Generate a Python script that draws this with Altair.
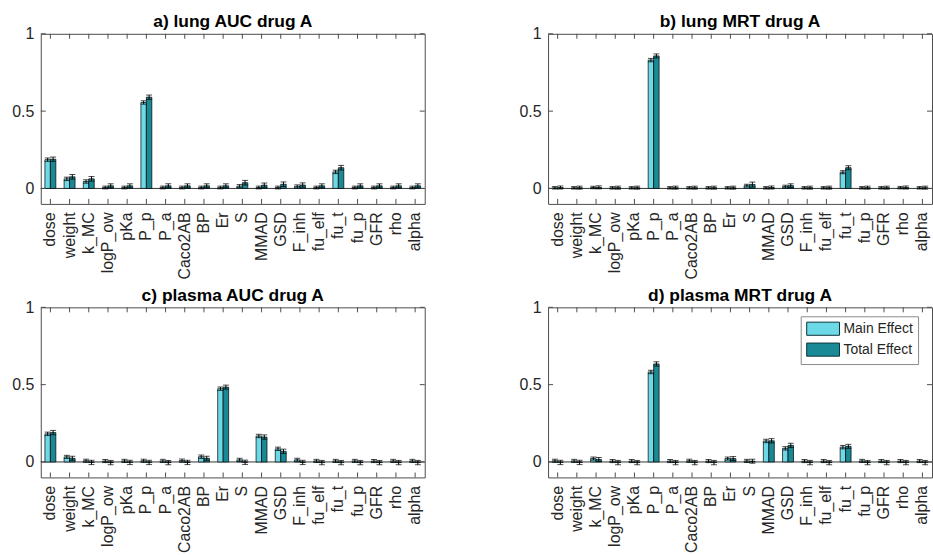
import altair as alt
import pandas as pd

# Sobol sensitivity indices (first order = main, total order = total) per input parameter
PARAMS = ["dose", "weight", "k_MC", "logP_ow", "pKa", "P_p", "P_a", "Caco2AB", "BP", "Er",
          "S", "MMAD", "GSD", "F_inh", "fu_elf", "fu_t", "fu_p", "GFR", "rho", "alpha"]
EFFECTS = ["Main Effect", "Total Effect"]
COLORS = ["#6dd8e6", "#1a8996"]

TITLES = ["a) lung AUC drug A", "b) lung MRT drug A", "c) plasma AUC drug A", "d) plasma MRT drug A"]

LUNG_AUC_MAIN = [0.186, 0.062, 0.045, 0.006, 0.006, 0.556, 0.006, 0.006, 0.006, 0.006,
                 0.015, 0.006, 0.006, 0.013, 0.006, 0.107, 0.006, 0.006, 0.006, 0.006]
LUNG_AUC_TOTAL = [0.189, 0.075, 0.062, 0.017, 0.017, 0.590, 0.017, 0.017, 0.017, 0.017,
                  0.037, 0.021, 0.027, 0.022, 0.017, 0.134, 0.017, 0.017, 0.017, 0.017]
LUNG_AUC_MAIN_ERR = [0.011, 0.011, 0.011, 0.009, 0.009, 0.011, 0.009, 0.009, 0.009, 0.009,
                     0.010, 0.009, 0.009, 0.010, 0.009, 0.011, 0.009, 0.009, 0.009, 0.009]
LUNG_AUC_TOTAL_ERR = [0.014, 0.015, 0.015, 0.013, 0.013, 0.014, 0.013, 0.013, 0.013, 0.013,
                      0.015, 0.014, 0.015, 0.014, 0.013, 0.015, 0.013, 0.013, 0.013, 0.013]

LUNG_MRT_MAIN = [0.004, 0.004, 0.006, 0.004, 0.004, 0.830, 0.004, 0.004, 0.004, 0.004,
                 0.018, 0.004, 0.012, 0.004, 0.004, 0.105, 0.004, 0.004, 0.005, 0.004]
LUNG_MRT_TOTAL = [0.006, 0.005, 0.007, 0.005, 0.005, 0.857, 0.005, 0.005, 0.005, 0.005,
                  0.025, 0.006, 0.018, 0.005, 0.005, 0.134, 0.005, 0.005, 0.006, 0.005]
LUNG_MRT_MAIN_ERR = [0.008, 0.008, 0.008, 0.008, 0.008, 0.011, 0.008, 0.008, 0.008, 0.008,
                     0.009, 0.008, 0.009, 0.008, 0.008, 0.010, 0.008, 0.008, 0.008, 0.008]
LUNG_MRT_TOTAL_ERR = [0.010, 0.010, 0.010, 0.010, 0.010, 0.013, 0.010, 0.010, 0.010, 0.010,
                      0.016, 0.010, 0.012, 0.010, 0.010, 0.013, 0.010, 0.010, 0.010, 0.010]

PLASMA_AUC_MAIN = [0.182, 0.033, 0.008, 0.006, 0.007, 0.008, 0.007, 0.009, 0.034, 0.474,
                   0.014, 0.168, 0.085, 0.014, 0.007, 0.007, 0.007, 0.006, 0.007, 0.007]
PLASMA_AUC_TOTAL = [0.190, 0.024, -0.003, -0.004, -0.003, -0.003, -0.004, -0.003, 0.024, 0.484,
                    -0.002, 0.161, 0.069, -0.003, -0.004, -0.004, -0.004, -0.004, -0.004, -0.004]
PLASMA_AUC_MAIN_ERR = [0.011, 0.010, 0.010, 0.010, 0.010, 0.010, 0.010, 0.010, 0.011, 0.011,
                       0.010, 0.011, 0.011, 0.010, 0.010, 0.010, 0.010, 0.010, 0.010, 0.010]
PLASMA_AUC_TOTAL_ERR = [0.014, 0.013, 0.014, 0.014, 0.014, 0.014, 0.014, 0.014, 0.013, 0.013,
                        0.014, 0.014, 0.014, 0.014, 0.014, 0.014, 0.014, 0.014, 0.014, 0.014]

PLASMA_MRT_MAIN = [0.008, 0.007, 0.022, 0.006, 0.006, 0.582, 0.006, 0.008, 0.006, 0.022,
                   0.007, 0.136, 0.088, 0.006, 0.006, 0.096, 0.007, 0.006, 0.006, 0.006]
PLASMA_MRT_TOTAL = [-0.003, -0.003, 0.016, -0.004, -0.004, 0.634, -0.004, -0.004, -0.004, 0.022,
                    0.005, 0.137, 0.107, -0.004, -0.004, 0.101, -0.004, -0.004, -0.004, -0.004]
PLASMA_MRT_MAIN_ERR = [0.010, 0.010, 0.010, 0.010, 0.010, 0.011, 0.010, 0.010, 0.010, 0.010,
                       0.010, 0.011, 0.011, 0.010, 0.010, 0.011, 0.010, 0.010, 0.010, 0.010]
PLASMA_MRT_TOTAL_ERR = [0.014, 0.014, 0.013, 0.014, 0.014, 0.014, 0.014, 0.014, 0.014, 0.013,
                        0.013, 0.014, 0.014, 0.014, 0.014, 0.013, 0.014, 0.014, 0.014, 0.014]

SERIES = [
    (LUNG_AUC_MAIN, LUNG_AUC_TOTAL, LUNG_AUC_MAIN_ERR, LUNG_AUC_TOTAL_ERR),
    (LUNG_MRT_MAIN, LUNG_MRT_TOTAL, LUNG_MRT_MAIN_ERR, LUNG_MRT_TOTAL_ERR),
    (PLASMA_AUC_MAIN, PLASMA_AUC_TOTAL, PLASMA_AUC_MAIN_ERR, PLASMA_AUC_TOTAL_ERR),
    (PLASMA_MRT_MAIN, PLASMA_MRT_TOTAL, PLASMA_MRT_MAIN_ERR, PLASMA_MRT_TOTAL_ERR),
]

Y_TICKS = [0, 0.5, 1]
W, H = 386, 171
FONT = "Liberation Sans"
LABEL_COLOR = "#262626"
BOX_COLOR = "#4d4d4d"


def long_table(main, total, main_err, total_err):
    rows = []
    for effect, vals, errs in ((EFFECTS[0], main, main_err), (EFFECTS[1], total, total_err)):
        for p, v, e in zip(PARAMS, vals, errs):
            rows.append({"param": p, "effect": effect, "value": v, "lo": v - e, "hi": v + e})
    return pd.DataFrame(rows)


x_scale = alt.Scale(domain=PARAMS, paddingInner=0.43, paddingOuter=0.215)
y_scale = alt.Scale(domain=[-0.1, 1], nice=False, zero=True)
x_axis = alt.Axis(title=None, labelAngle=-90, ticks=False, domain=False, labelPadding=8,
                  labelFontSize=16, labelColor=LABEL_COLOR, labelOverlap=False, grid=False)
y_axis = alt.Axis(title=None, values=Y_TICKS, format="~g", ticks=False, domain=False, grid=False,
                  labelPadding=7, labelFontSize=16, labelColor=LABEL_COLOR)


def X():
    return alt.X("param:N", sort=PARAMS, scale=x_scale, axis=x_axis)


def XO():
    return alt.XOffset("effect:N", sort=EFFECTS,
                       scale=alt.Scale(domain=EFFECTS, paddingInner=0, paddingOuter=0))


def panel(title, series, show_legend):
    df = long_table(*series)
    base = alt.Chart(df)

    legend = None
    if show_legend:
        # wide flat swatches: the row height follows the symbol size, the path extends sideways
        legend = alt.Legend(title=None, orient="none", legendX=254, legendY=9,
                            symbolType="M-2.5,-1H2.5V1H-2.5Z", symbolSize=174, symbolOffset=10,
                            symbolStrokeColor="#0b3338", symbolStrokeWidth=1, symbolOpacity=1,
                            labelFontSize=14, labelColor=LABEL_COLOR, labelOffset=13,
                            strokeColor="#8a8a8a", fillColor="white", padding=5, rowPadding=2)

    bars = base.mark_bar(stroke="black", strokeWidth=0.7).encode(
        x=X(), xOffset=XO(),
        y=alt.Y("value:Q", scale=y_scale, axis=y_axis),
        color=alt.Color("effect:N", sort=EFFECTS,
                        scale=alt.Scale(domain=EFFECTS, range=COLORS), legend=legend),
    )
    err = base.mark_rule(color="black", strokeWidth=1).encode(
        x=X(), xOffset=XO(),
        y=alt.Y("lo:Q", scale=y_scale, axis=y_axis), y2="hi:Q",
    )
    cap_lo = base.mark_tick(color="black", thickness=1, size=6, orient="horizontal").encode(
        x=X(), xOffset=XO(), y=alt.Y("lo:Q", scale=y_scale, axis=y_axis))
    cap_hi = base.mark_tick(color="black", thickness=1, size=6, orient="horizontal").encode(
        x=X(), xOffset=XO(), y=alt.Y("hi:Q", scale=y_scale, axis=y_axis))

    # inward tick marks on all four sides of the box
    pdf = alt.Chart(pd.DataFrame({"param": PARAMS}))
    xt_bottom = pdf.mark_rule(color=BOX_COLOR, strokeWidth=1).encode(
        x=X(), y=alt.value(H - 5), y2=alt.value(H))
    xt_top = pdf.mark_rule(color=BOX_COLOR, strokeWidth=1).encode(
        x=X(), y=alt.value(0), y2=alt.value(5))
    ydf = alt.Chart(pd.DataFrame({"v": Y_TICKS}))
    yt_left = ydf.mark_rule(color=BOX_COLOR, strokeWidth=1).encode(
        y=alt.Y("v:Q", scale=y_scale, axis=y_axis), x=alt.value(0), x2=alt.value(5))
    yt_right = ydf.mark_rule(color=BOX_COLOR, strokeWidth=1).encode(
        y=alt.Y("v:Q", scale=y_scale, axis=y_axis), x=alt.value(W - 5), x2=alt.value(W))

    # bar baseline at zero
    baseline = alt.Chart(pd.DataFrame({"v": [0]})).mark_rule(color="#333333", strokeWidth=1).encode(
        y=alt.Y("v:Q", scale=y_scale, axis=y_axis), x=alt.value(0), x2=alt.value(W))

    return alt.layer(baseline, bars, err, cap_lo, cap_hi, xt_bottom, xt_top, yt_left, yt_right).properties(
        width=W, height=H,
        title=alt.TitleParams(title, fontSize=17.5, fontWeight="bold", color="black",
                              font=FONT, offset=-5, anchor="middle"),
    )


panels = [panel(t, s, i == 3) for i, (t, s) in enumerate(zip(TITLES, SERIES))]

chart = alt.concat(*panels, columns=2, spacing={"row": 6, "column": 93}).resolve_scale(
    color="independent"
).configure(
    font=FONT, padding={"left": 11, "top": 11.5, "right": 0, "bottom": 0}, background="white"
).configure_view(stroke=BOX_COLOR, strokeWidth=1)

chart.save("out.html", embed_options={"renderer": "svg", "actions": False})
